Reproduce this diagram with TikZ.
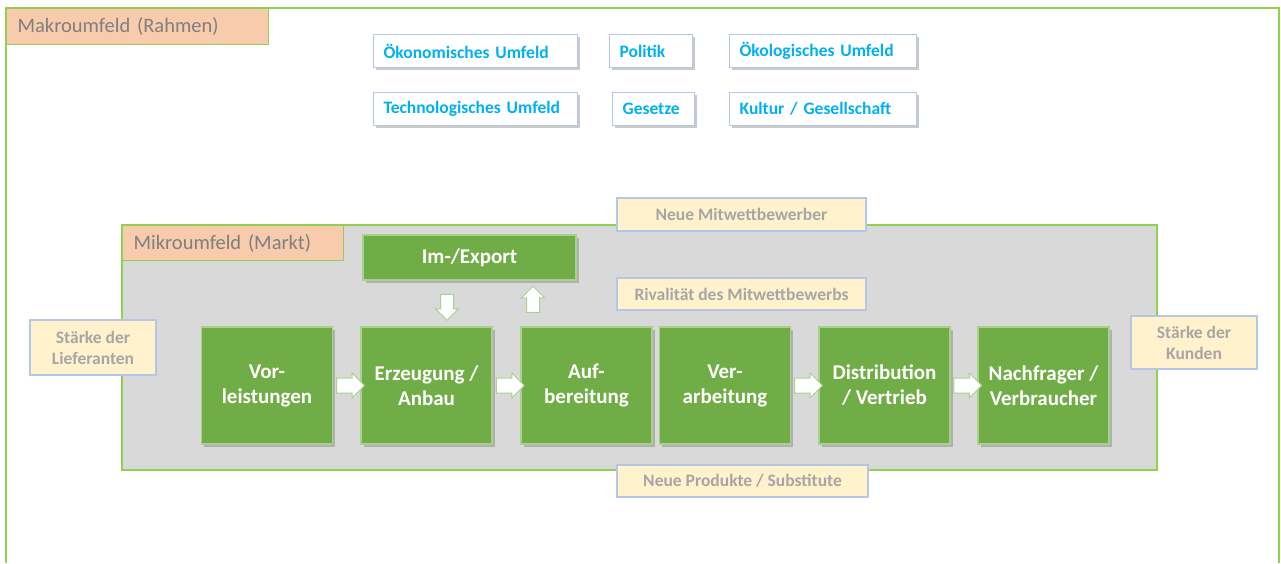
\documentclass[tikz,border=0pt]{standalone}
\usepackage{fontspec}
\setmainfont{Carlito}
\usetikzlibrary{shapes.arrows,shadows,calc}
\definecolor{rahmengruen}{HTML}{92D050}
\definecolor{pfirsich}{HTML}{F8CBAD}
\definecolor{labelgrau}{HTML}{7F7F7F}
\definecolor{marktgrau}{HTML}{D9D9D9}
\definecolor{stufengruen}{HTML}{70AD47}
\definecolor{stufenrand}{HTML}{A9D18E}
\definecolor{umfeldblau}{HTML}{00B0F0}
\definecolor{kastenrand}{HTML}{B4C7E7}
\definecolor{kraftgelb}{HTML}{FFF2CC}
\definecolor{kraftgrau}{HTML}{A6A6A6}

\tikzset{
  schatten/.style={drop shadow={shadow xshift=2.5pt, shadow yshift=-2.5pt, opacity=0.35, fill=black!60}},
  umfeld/.style={draw=kastenrand, line width=1.2pt, fill=white, schatten, text=umfeldblau,
    font=\bfseries\fontsize{17.5}{21}\selectfont, anchor=north west, inner xsep=10pt,
    inner ysep=0pt, align=left, minimum height=33pt},
  stufe/.style={draw=stufenrand, line width=1.2pt, fill=stufengruen, schatten, text=white,
    font=\bfseries\fontsize{21}{25}\selectfont, align=center, minimum width=131pt,
    minimum height=117pt, inner sep=0pt},
  kraft/.style={draw=kastenrand, line width=1.2pt, fill=kraftgelb, text=kraftgrau,
    font=\bfseries\fontsize{17.5}{21}\selectfont, align=center, inner sep=0pt},
  pfeil/.style={single arrow, draw=stufenrand, line width=1pt, fill=white, minimum height=28pt,
    single arrow head extend=5pt, inner xsep=0pt, inner ysep=7pt},
  feldlabel/.style={draw=rahmengruen, line width=1.2pt, fill=pfirsich, text=labelgrau,
    font=\fontsize{20.5}{24}\selectfont, anchor=north west, inner xsep=11pt, inner ysep=0pt,
    align=left},
}

\begin{document}
\begin{tikzpicture}[x=1pt,y=-1pt]
        \useasboundingbox (0,0) rectangle (1281,563);
        % Makroumfeld
        \draw[rahmengruen, line width=1.5pt] (6,563) -- (6,8) -- (1279,8) -- (1279,563);
        \node[feldlabel, text width=240pt, minimum height=36pt] (makro) at (6,8) {Makroumfeld (Rahmen)};
        % Umfeldfaktoren
        \node[umfeld, text width=184pt] (oekonomie) at (373,34) {Ökonomisches Umfeld};
        \node[umfeld, text width=63pt] (politik) at (609,34) {Politik};
        \node[umfeld, text width=167pt] (oekologie) at (729,34) {Ökologisches Umfeld};
        \node[umfeld, text width=184pt] (technologie) at (373,92) {Technologisches Umfeld};
        \node[umfeld, text width=62pt] (gesetze) at (612,92) {Gesetze};
        \node[umfeld, text width=167pt] (kultur) at (729,92) {Kultur / Gesellschaft};
        % Mikroumfeld
        \draw[rahmengruen, line width=1.5pt, fill=marktgrau] (122,225) rectangle (1157,470);
        \node[feldlabel, text width=199pt, minimum height=35pt] (mikro) at (122,225) {Mikroumfeld (Markt)};
        % Wertschoepfungsstufen
        \node[stufe, minimum width=213pt, minimum height=45pt] (imex) at (469.5,257.5) {Im-/Export};
        \node[stufe] (vor) at (267,385.5) {Vor-\\leistungen};
        \node[stufe] (erz) at (426.5,385.5) {Erzeugung /\\Anbau};
        \node[stufe] (aufb) at (586.5,385.5) {Auf-\\bereitung};
        \node[stufe] (verarb) at (725,385.5) {Ver-\\arbeitung};
        \node[stufe] (distr) at (884.5,385.5) {Distribution\\/ Vertrieb};
        \node[stufe] (nachfr) at (1043.5,385.5) {Nachfrager /\\Verbraucher};
        % Pfeile
        \node[pfeil] (p1) at ($(vor.east)!0.5!(erz.west)$) {};
        \node[pfeil] (p2) at ($(erz.east)!0.5!(aufb.west)$) {};
        \node[pfeil] (p3) at ($(verarb.east)!0.5!(distr.west)$) {};
        \node[pfeil] (p4) at ($(distr.east)!0.5!(nachfr.west)$) {};
        \node[pfeil, minimum height=26pt, inner ysep=6pt, rotate=-90] (import) at (447,304) {};
        \node[pfeil, minimum height=26pt, inner ysep=6pt, rotate=90] (export) at (533,302.5) {};
        % Wettbewerbskraefte
        \node[kraft, minimum width=249pt, minimum height=33pt] (neue) at (741.5,214.5) {Neue Mitwettbewerber};
        \node[kraft, minimum width=249pt, minimum height=32pt] (rival) at (741.5,294) {Rivalität des Mitwettbewerbs};
        \node[kraft, minimum width=126pt, minimum height=55pt] (liefer) at (93,347.5) {Stärke der\\Lieferanten};
        \node[kraft, minimum width=126pt, minimum height=53pt] (kunden) at (1194,342.5) {Stärke der\\Kunden};
        \node[kraft, minimum width=251pt, minimum height=32pt] (subst) at (742.5,481) {Neue Produkte / Substitute};
      \end{tikzpicture}
\end{document}
